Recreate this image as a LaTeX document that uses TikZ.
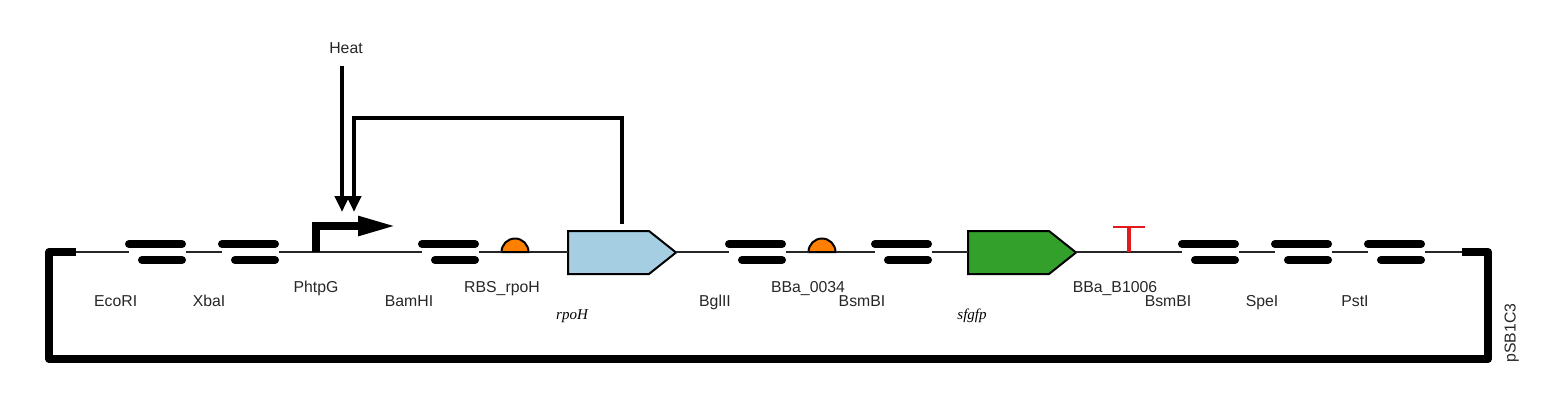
\documentclass[tikz,border=0pt]{standalone}
\usepackage{fontspec}
\setmainfont{Liberation Sans}
\newfontfamily\genefont{Liberation Serif}
\usetikzlibrary{arrows.meta}
\definecolor{genea}{HTML}{A6CEE3}
\definecolor{geneb}{HTML}{33A02C}
\definecolor{rbscol}{HTML}{FF7F00}
\definecolor{termcol}{HTML}{E31A1C}
\tikzset{
  x=1pt,y=-1pt,
  backbone/.style={line width=2pt,black!85},
  plasmid/.style={line width=8pt,line join=round},
  sitebar/.style={line width=8pt,line cap=round},
  cds/.style={draw=black,line width=2pt,line join=miter},
  rbsshape/.style={draw=black,line width=2pt,fill=rbscol},
  ctrl/.style={line width=4pt,-{Triangle[length=16pt,width=14pt]}},
  partlabel/.style={inner sep=0pt,anchor=base,font=\fontsize{15.8}{17}\selectfont,text=black!85},
  genelabel/.style={inner sep=0pt,anchor=base,font=\genefont\itshape\fontsize{15}{17}\selectfont},
}
\newcommand{\rsite}[2]{%
  \coordinate (#1in) at (#2+4,252);
  \coordinate (#1out) at (#2+61,252);
  \draw[sitebar] (#2+4,244) -- (#2+57,244);
  \draw[sitebar] (#2+17,260) -- (#2+57,260);
}
\newcommand{\rbspart}[2]{%
  \coordinate (#1in) at (#2-13.5,252);
  \coordinate (#1out) at (#2+13.5,252);
  \draw[rbsshape] (#2-13.5,252) arc[start angle=180,end angle=360,radius=13.5] -- cycle;
}
\newcommand{\cdspart}[3]{%
  \coordinate (#1in) at (#2,252);
  \coordinate (#1out) at (#2+108,252);
  \coordinate (#1top) at (#2+54,224);
  \draw[cds,fill=#3] (#2,231) -- (#2+81,231) -- (#2+108,252.5) -- (#2+81,274) -- (#2,274) -- cycle;
}
\begin{document}
\begin{tikzpicture}
\useasboundingbox (0,0) rectangle (1562,408);
% parts
\coordinate (startb) at (76,252);
\coordinate (endb) at (1462,252);
\rsite{eco}{125}
\rsite{xba}{218}
\rsite{bam}{418}
\rbspart{rbsa}{515}
\cdspart{rpoh}{568}{genea}
\rsite{bgl}{725}
\rbspart{rbsb}{822}
\rsite{bsma}{871}
\cdspart{gfp}{968}{geneb}
\rsite{bsmb}{1178}
\rsite{spe}{1271}
\rsite{pst}{1364}
% backbone
\draw[backbone] (startb) -- (ecoin);
\draw[backbone] (ecoout) -- (xbain);
\draw[backbone] (xbaout) -- (bamin);
\draw[backbone] (bamout) -- (rbsain);
\draw[backbone] (rbsaout) -- (rpohin);
\draw[backbone] (rpohout) -- (bglin);
\draw[backbone] (bglout) -- (rbsbin);
\draw[backbone] (rbsbout) -- (bsmain);
\draw[backbone] (bsmaout) -- (gfpin);
\draw[backbone] (gfpout) -- (bsmbin);
\draw[backbone] (bsmbout) -- (spein);
\draw[backbone] (speout) -- (pstin);
\draw[backbone] (pstout) -- (endb);
% plasmid loop
\draw[plasmid] (startb) -- (49,252) -- (49,359) -- (1488,359) -- (1488,252) -- (endb);
% promoter
\coordinate (promb) at (316,252);
\coordinate (promt) at (316,226);
\coordinate (promh) at (397,226);
\draw[line width=8pt,miter limit=10,-{Triangle[length=39pt,width=18pt,sep=0pt]}] (promb) -- (promt) -- (promh);
% terminator
\coordinate (termb) at (1129,252);
\coordinate (termt) at (1129,227);
\coordinate (terml) at (1113,227);
\coordinate (termr) at (1145,227);
\draw[termcol,line width=4pt] (termb) -- (termt);
\draw[termcol,line width=2.5pt] (terml) -- (termr);
% control
\coordinate (heatend) at (342,66);
\coordinate (heattip) at (342,212);
\coordinate (fbtip) at (354,212);
\draw[ctrl] (heatend) -- (heattip);
\draw[ctrl,line join=miter] (rpohtop) -- (622,118) -- (354,118) -- (fbtip);
% labels
\node[partlabel] (lheat) at (346,53) {Heat};
\node[partlabel] (l1) at (115.7,306.5) {EcoRI};
\node[partlabel] (l2) at (209,306.5) {XbaI};
\node[partlabel] (l3) at (316,292.7) {PhtpG};
\node[partlabel] (l4) at (409,306) {BamHI};
\node[partlabel] (l5) at (502,292.7) {RBS\_rpoH};
\node[genelabel] (l6) at (572,319) {rpoH};
\node[partlabel] (l7) at (715,306) {BglII};
\node[partlabel] (l8) at (808,292.7) {BBa\_0034};
\node[partlabel] (l9) at (862,306) {BsmBI};
\node[genelabel] (l10) at (972,319) {sfgfp};
\node[partlabel] (l11) at (1115,292.7) {BBa\_B1006};
\node[partlabel] (l12) at (1168,306) {BsmBI};
\node[partlabel] (l13) at (1262,306) {SpeI};
\node[partlabel] (l14) at (1355,306) {PstI};
\node[partlabel,rotate=90] (l15) at (1515.7,333) {pSB1C3};
\end{tikzpicture}
\end{document}
